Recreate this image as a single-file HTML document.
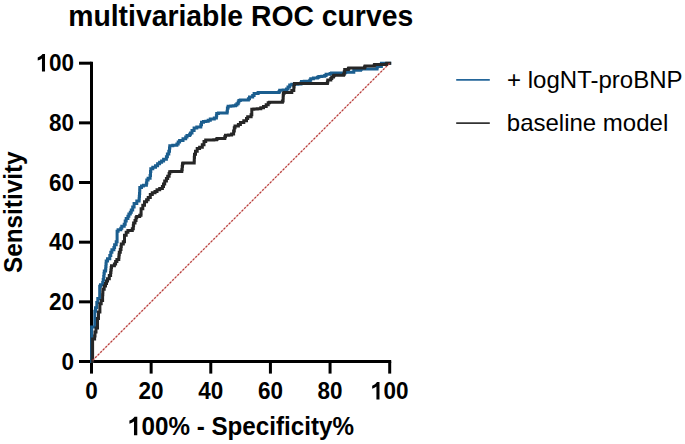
<!DOCTYPE html>
<html><head><meta charset="utf-8"><style>
html,body{margin:0;padding:0;background:#fff;width:685px;height:444px;overflow:hidden}
svg{display:block}
text{font-family:"Liberation Sans",sans-serif}
</style></head><body>
<svg width="685" height="444" viewBox="0 0 685 444">
<text x="68.2" y="26" font-size="29" font-weight="bold" fill="#000" textLength="345" lengthAdjust="spacingAndGlyphs">multivariable ROC curves</text>
<g stroke="#000" stroke-width="3" fill="none" stroke-linecap="butt">
<path d="M91.5 61.7V361.5H391.2"/>
<line x1="79" y1="361.50" x2="91.5" y2="361.50"/><line x1="91.50" y1="361.5" x2="91.50" y2="373.6"/><line x1="79" y1="301.84" x2="91.5" y2="301.84"/><line x1="151.14" y1="361.5" x2="151.14" y2="373.6"/><line x1="79" y1="242.18" x2="91.5" y2="242.18"/><line x1="210.78" y1="361.5" x2="210.78" y2="373.6"/><line x1="79" y1="182.52" x2="91.5" y2="182.52"/><line x1="270.42" y1="361.5" x2="270.42" y2="373.6"/><line x1="79" y1="122.86" x2="91.5" y2="122.86"/><line x1="330.06" y1="361.5" x2="330.06" y2="373.6"/><line x1="79" y1="63.20" x2="91.5" y2="63.20"/><line x1="389.70" y1="361.5" x2="389.70" y2="373.6"/>
</g>
<line x1="91.5" y1="361.5" x2="389.7" y2="63.2" stroke="#e9c2c0" stroke-width="1.1"/>
<path d="M91.7 361.5L91.7 327.0L94.8 327.0L94.8 311.5L94.8 311.2L95.5 311.2L95.5 311.0L95.5 308.0L95.5 307.8L96.8 307.8L96.8 307.5L96.8 302.8L96.8 302.4L97.8 302.4L97.8 302.0L97.8 298.7L97.8 298.4L99.7 298.4L99.7 298.0L99.7 287.0L99.7 286.2L100.5 286.2L100.5 285.5L100.5 284.8L102.7 284.8L102.7 284.0L102.7 282.5L103.2 282.5L103.2 279.5L103.7 279.5L103.7 278.0L103.7 276.4L104.0 276.4L104.0 273.4L104.3 273.4L104.3 271.8L104.3 271.1L105.6 271.1L105.6 270.5L105.6 269.1L105.8 269.1L105.8 266.4L106.0 266.4L106.0 263.7L106.2 263.7L106.2 262.3L106.2 261.1L107.5 261.1L107.5 259.8L107.5 258.7L109.8 258.7L109.8 257.6L109.8 255.6L110.8 255.6L110.8 253.5L110.8 252.2L111.9 252.2L111.9 250.8L111.9 249.8L113.9 249.8L113.9 248.8L113.9 247.4L114.6 247.4L114.6 246.1L114.6 244.8L116.2 244.8L116.2 243.4L116.2 241.7L117.1 241.7L117.1 240.0L117.1 232.3L117.1 231.2L118.1 231.2L118.1 230.2L118.1 229.7L120.8 229.7L120.8 229.2L120.8 228.2L121.8 228.2L121.8 227.2L121.8 226.3L124.2 226.3L124.2 225.5L124.2 224.2L125.2 224.2L125.2 222.8L125.2 221.1L126.2 221.1L126.2 219.4L126.2 218.4L127.9 218.4L127.9 217.4L127.9 216.2L128.9 216.2L128.9 215.0L128.9 214.0L130.3 214.0L130.3 213.0L130.3 212.2L131.3 212.2L131.3 211.5L131.3 209.9L132.7 209.9L132.7 206.9L134.1 206.9L134.1 205.3L134.1 203.6L136.8 203.6L136.8 201.9L136.8 200.9L139.1 200.9L139.1 199.9L139.1 198.7L139.3 198.7L139.3 196.3L139.5 196.3L139.5 195.1L139.5 193.4L139.7 193.4L139.7 190.1L139.8 190.1L139.8 188.4L139.8 187.4L141.5 187.4L141.5 186.4L141.5 185.9L143.4 185.9L143.4 185.3L143.4 185.2L146.4 185.2L146.4 185.0L146.4 182.9L146.8 182.9L146.8 180.9L146.8 179.9L148.1 179.9L148.1 178.9L148.1 178.2L150.1 178.2L150.1 177.6L150.1 175.6L150.5 175.6L150.5 173.5L150.5 171.5L150.8 171.5L150.8 169.5L150.8 168.7L152.8 168.7L152.8 167.8L152.8 167.3L155.5 167.3L155.5 166.8L155.5 165.8L157.6 165.8L157.6 164.7L157.6 163.8L159.6 163.8L159.6 163.0L159.6 162.3L161.6 162.3L161.6 161.7L161.6 161.1L163.6 161.1L163.6 160.5L163.6 159.2L166.4 159.2L166.4 158.0L166.4 156.7L167.4 156.7L167.4 155.3L167.4 153.9L168.8 153.9L168.8 152.6L168.8 151.2L169.5 151.2L169.5 149.9L169.5 148.0L169.8 148.0L169.8 146.1L169.8 145.8L172.8 145.8L172.8 145.5L172.8 145.2L176.9 145.2L176.9 144.8L176.9 143.9L178.2 143.9L178.2 143.1L178.2 142.1L179.6 142.1L179.6 141.1L179.6 140.4L183.0 140.4L183.0 139.7L183.0 138.8L185.7 138.8L185.7 138.0L185.7 137.0L187.0 137.0L187.0 136.0L187.0 135.5L189.7 135.5L189.7 135.0L189.7 134.3L190.5 134.3L190.5 133.6L190.5 132.9L192.0 132.9L192.0 132.3L192.0 130.6L194.1 130.6L194.1 128.9L194.1 128.1L196.8 128.1L196.8 127.2L196.8 127.1L200.8 127.1L200.8 126.9L200.8 124.8L201.5 124.8L201.5 122.8L201.5 122.2L203.5 122.2L203.5 121.5L203.5 121.4L205.8 121.4L205.8 121.2L208.2 121.2L208.2 121.1L208.2 120.2L210.3 120.2L210.3 119.4L210.3 119.1L214.3 119.1L214.3 118.8L214.3 118.1L216.4 118.1L216.4 117.4L216.4 115.7L216.7 115.7L216.7 114.0L216.7 113.5L218.4 113.5L218.4 113.0L227.1 113.0L227.1 111.2L227.4 111.2L227.4 109.5L227.4 108.0L228.1 108.0L228.1 106.4L228.1 106.2L230.8 106.2L230.8 106.1L230.8 106.0L233.2 106.0L233.2 105.8L235.5 105.8L235.5 105.7L235.5 105.1L236.9 105.1L236.9 104.4L236.9 103.7L238.2 103.7L238.2 103.0L238.2 102.0L238.9 102.0L238.9 101.0L238.9 100.5L240.3 100.5L240.3 100.0L248.4 100.0L248.4 98.8L249.5 98.8L249.5 97.5L249.5 97.0L252.7 97.0L252.7 96.6L252.7 95.5L254.1 95.5L254.1 94.5L254.1 93.5L258.1 93.5L258.1 92.5L279.1 92.5L279.1 91.5L279.7 91.5L279.7 90.5L279.7 90.3L283.1 90.3L283.1 90.0L286.5 90.0L286.5 89.8L286.5 89.0L288.0 89.0L288.0 88.3L288.0 87.1L289.7 87.1L289.7 85.9L289.7 85.1L291.8 85.1L291.8 84.3L291.8 84.2L294.9 84.2L294.9 84.2L297.9 84.2L297.9 84.0L301.0 84.0L301.0 84.0L301.0 82.7L301.5 82.7L301.5 81.4L301.5 81.4L304.3 81.4L304.3 81.3L307.0 81.3L307.0 81.2L309.8 81.2L309.8 81.2L309.8 80.3L310.7 80.3L310.7 79.5L310.7 78.8L313.4 78.8L313.4 78.2L313.4 78.0L317.4 78.0L317.4 77.8L317.4 77.2L318.8 77.2L318.8 76.5L318.8 76.4L321.8 76.4L321.8 76.3L324.7 76.3L324.7 76.2L324.7 75.4L326.1 75.4L326.1 74.6L326.1 74.2L330.1 74.2L330.1 73.9L330.1 73.5L331.5 73.5L331.5 73.0L345.0 73.0L345.0 72.6L345.7 72.6L345.7 72.2L353.8 72.2L353.8 70.3L353.8 70.3L357.2 70.3L357.2 70.2L360.6 70.2L360.6 70.2L360.6 69.6L361.1 69.6L361.1 69.0L377.0 69.0L377.0 67.8L377.3 67.8L377.3 66.6L381.4 66.6L381.4 63.2L389.7 63.2" fill="none" stroke="#1b5e8f" stroke-width="3" stroke-linejoin="miter" stroke-linecap="square"/>
<path d="M92.6 361.5L92.6 340.0L92.6 339.0L94.6 339.0L94.6 338.0L94.6 336.0L95.0 336.0L95.0 334.0L95.0 332.0L96.0 332.0L96.0 330.0L96.0 328.0L97.5 328.0L97.5 326.0L97.5 319.0L97.5 318.6L98.5 318.6L98.5 318.3L98.5 312.2L98.5 311.9L99.9 311.9L99.9 311.5L99.9 304.0L99.9 303.7L101.2 303.7L101.2 303.4L101.2 300.7L101.2 300.4L102.6 300.4L102.6 300.0L102.6 296.0L102.6 294.8L102.8 294.8L102.8 292.2L102.9 292.2L102.9 291.0L102.9 289.3L104.2 289.3L104.2 287.6L104.2 286.1L105.5 286.1L105.5 284.5L105.5 283.4L106.5 283.4L106.5 281.1L107.5 281.1L107.5 280.0L107.5 278.7L109.3 278.7L109.3 277.4L109.3 275.5L110.6 275.5L110.6 273.6L110.6 272.4L110.9 272.4L110.9 269.9L111.2 269.9L111.2 268.6L111.2 267.4L111.5 267.4L111.5 266.1L111.5 265.8L114.4 265.8L114.4 265.5L114.4 263.9L115.6 263.9L115.6 262.3L115.6 261.4L116.9 261.4L116.9 260.4L116.9 259.4L118.8 259.4L118.8 258.5L118.8 257.2L119.0 257.2L119.0 254.8L119.3 254.8L119.3 253.5L119.3 252.2L120.3 252.2L120.3 250.8L120.3 249.4L121.0 249.4L121.0 248.1L121.0 246.4L121.3 246.4L121.3 244.7L121.3 244.1L123.3 244.1L123.3 243.4L123.3 241.7L124.5 241.7L124.5 240.0L124.5 237.0L124.5 235.3L126.2 235.3L126.2 233.6L126.2 232.2L127.9 232.2L127.9 230.9L127.9 230.6L132.3 230.6L132.3 230.2L132.3 228.8L133.3 228.8L133.3 227.5L133.3 225.8L133.6 225.8L133.6 224.2L133.6 223.1L135.0 223.1L135.0 222.1L135.0 220.4L136.0 220.4L136.0 218.8L136.0 217.8L136.7 217.8L136.7 216.7L136.7 216.4L139.7 216.4L139.7 216.1L139.7 215.3L141.0 215.3L141.0 214.5L141.0 213.4L141.1 213.4L141.1 211.1L141.1 211.1L141.1 210.0L141.1 208.7L142.8 208.7L142.8 207.3L142.8 205.2L144.5 205.2L144.5 203.2L144.5 201.8L146.6 201.8L146.6 200.5L146.6 199.8L148.2 199.8L148.2 199.2L148.2 197.5L150.3 197.5L150.3 195.8L150.3 194.4L152.3 194.4L152.3 193.1L152.3 192.8L155.0 192.8L155.0 192.4L155.0 191.4L157.0 191.4L157.0 190.4L157.0 189.8L159.7 189.8L159.7 189.1L159.7 188.4L162.4 188.4L162.4 187.7L162.4 186.6L163.5 186.6L163.5 185.5L163.5 183.9L164.7 183.9L164.7 182.3L164.7 180.9L166.4 180.9L166.4 179.6L166.4 178.6L167.7 178.6L167.7 177.6L167.7 176.2L169.1 176.2L169.1 174.9L169.1 173.6L169.7 173.6L169.7 172.2L169.7 171.8L171.1 171.8L171.1 171.5L181.8 171.5L181.8 169.8L182.2 169.8L182.2 166.2L182.5 166.2L182.5 164.5L182.5 163.8L183.0 163.8L183.0 163.2L183.0 163.1L185.8 163.1L185.8 163.1L188.6 163.1L188.6 162.9L191.4 162.9L191.4 162.9L194.2 162.9L194.2 162.8L194.2 160.9L194.3 160.9L194.3 157.2L194.5 157.2L194.5 155.3L194.5 154.2L195.5 154.2L195.5 153.2L195.5 151.2L197.2 151.2L197.2 149.2L197.2 148.5L199.6 148.5L199.6 147.8L199.6 147.2L202.3 147.2L202.3 146.5L202.3 144.8L204.0 144.8L204.0 143.1L204.0 141.6L205.7 141.6L205.7 140.2L205.7 140.1L208.4 140.1L208.4 140.0L211.1 140.0L211.1 139.9L213.8 139.9L213.8 139.8L216.5 139.8L216.5 139.7L216.5 139.1L217.4 139.1L217.4 138.6L217.4 138.5L221.1 138.5L221.1 138.4L224.8 138.4L224.8 138.3L224.8 136.8L225.5 136.8L225.5 135.3L225.5 135.2L228.6 135.2L228.6 135.0L231.6 135.0L231.6 134.9L231.6 133.9L233.6 133.9L233.6 132.9L233.6 130.9L234.3 130.9L234.3 128.8L234.3 127.8L235.0 127.8L235.0 126.8L235.0 126.1L238.4 126.1L238.4 125.4L238.4 124.4L240.4 124.4L240.4 123.4L240.4 122.6L243.8 122.6L243.8 121.7L243.8 120.8L246.5 120.8L246.5 120.0L246.5 118.4L247.7 118.4L247.7 116.8L247.7 116.7L251.1 116.7L251.1 116.6L251.1 114.7L251.8 114.7L251.8 112.8L251.8 109.5L251.8 109.3L253.8 109.3L253.8 109.1L253.8 109.0L257.3 109.0L257.3 108.7L260.8 108.7L260.8 108.6L260.8 107.8L263.5 107.8L263.5 107.0L263.5 106.5L266.2 106.5L266.2 106.0L266.2 104.7L268.2 104.7L268.2 103.3L268.2 102.8L269.6 102.8L269.6 102.3L282.4 102.3L282.4 100.9L283.1 100.9L283.1 99.6L283.1 98.1L283.2 98.1L283.2 95.0L283.4 95.0L283.4 93.5L283.4 93.0L284.5 93.0L284.5 92.4L291.8 92.4L291.8 90.5L293.8 90.5L293.8 88.6L293.8 86.9L294.1 86.9L294.1 85.3L294.1 84.4L294.5 84.4L294.5 83.6L327.4 83.6L327.4 81.9L327.8 81.9L327.8 80.3L327.8 79.9L330.8 79.9L330.8 79.6L330.8 78.6L331.8 78.6L331.8 77.6L331.8 76.9L333.5 76.9L333.5 76.2L333.5 75.7L334.2 75.7L334.2 75.2L343.6 75.2L343.6 74.3L344.3 74.3L344.3 73.5L344.3 71.8L344.7 71.8L344.7 70.2L344.7 69.5L348.4 69.5L348.4 68.8L348.4 68.3L349.1 68.3L349.1 67.9L364.5 67.9L364.5 67.0L365.1 67.0L365.1 66.0L374.2 66.0L374.2 65.2L374.6 65.2L374.6 64.4L374.6 64.4L377.6 64.4L377.6 64.4L380.5 64.4L380.5 64.5L383.4 64.5L383.4 64.5L386.4 64.5L386.4 64.5L386.4 63.9L386.8 63.9L386.8 63.2L389.7 63.2" fill="none" stroke="#262626" stroke-width="3" stroke-linejoin="miter" stroke-linecap="square"/>
<line x1="91.5" y1="361.5" x2="389.7" y2="63.2" stroke="#b83a38" stroke-width="1.2" stroke-dasharray="2 1.635" stroke-dashoffset="-1.6"/>
<g font-size="22.5" font-weight="bold" fill="#000">
<text x="74" y="369.70" text-anchor="end" transform="matrix(1 0 0 1.0800 0 -29.576)">0</text><text x="74" y="310.04" text-anchor="end" transform="matrix(1 0 0 1.0800 0 -24.803)">20</text><text x="74" y="250.38" text-anchor="end" transform="matrix(1 0 0 1.0800 0 -20.030)">40</text><text x="74" y="190.72" text-anchor="end" transform="matrix(1 0 0 1.0800 0 -15.258)">60</text><text x="74" y="131.06" text-anchor="end" transform="matrix(1 0 0 1.0800 0 -10.485)">80</text><text x="74" y="71.40" text-anchor="end" transform="matrix(1 0 0 1.0800 0 -5.712)">00</text><path transform="translate(36.47 71.40) scale(0.02250 -0.02430)" d="M380 0L244 0L244 530Q170 470 55 445L55 570Q120 590 180 630Q245 675 268 716L380 716Z"/>
<text x="91.50" y="399.50" text-anchor="middle" transform="matrix(1 0 0 1.0800 0 -31.960)">0</text><text x="151.14" y="399.50" text-anchor="middle" transform="matrix(1 0 0 1.0800 0 -31.960)">20</text><text x="210.78" y="399.50" text-anchor="middle" transform="matrix(1 0 0 1.0800 0 -31.960)">40</text><text x="270.42" y="399.50" text-anchor="middle" transform="matrix(1 0 0 1.0800 0 -31.960)">60</text><text x="330.06" y="399.50" text-anchor="middle" transform="matrix(1 0 0 1.0800 0 -31.960)">80</text><text x="383.44" y="399.50" transform="matrix(1 0 0 1.0800 0 -31.960)">00</text><path transform="translate(370.94 399.50) scale(0.02250 -0.02430)" d="M380 0L244 0L244 530Q170 470 55 445L55 570Q120 590 180 630Q245 675 268 716L380 716Z"/>
</g>
<text x="141.54" y="435.30" font-size="24.2" font-weight="bold" transform="matrix(1 0 0 1.0700 0 -30.471)">00% - Specificity%</text><path transform="translate(128.08 435.30) scale(0.02420 -0.02589)" d="M380 0L244 0L244 530Q170 470 55 445L55 570Q120 590 180 630Q245 675 268 716L380 716Z"/>
<text transform="translate(21.6 212.2) rotate(-90) scale(1 1.070)" font-size="24.3" font-weight="bold" text-anchor="middle">Sensitivity</text>
<line x1="456.2" y1="79.8" x2="489.8" y2="79.8" stroke="#24669a" stroke-width="1.8"/>
<line x1="456.2" y1="123.1" x2="489.8" y2="123.1" stroke="#333" stroke-width="1.8"/>
<g font-size="24" fill="#000">
<text x="507.1" y="87.5">+ logNT-proBNP</text><text x="506.8" y="130.9">baseline model</text>
</g>
</svg>
</body></html>
